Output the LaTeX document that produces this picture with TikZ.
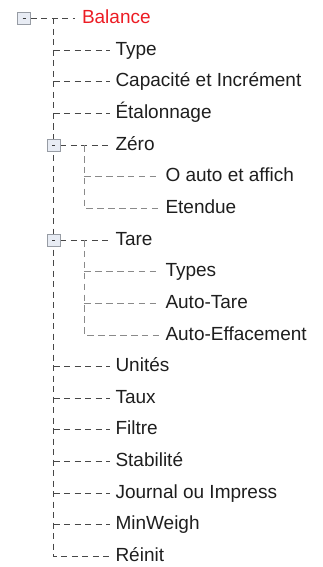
\documentclass[tikz,border=0pt]{standalone}
\usepackage{fontspec}
\setmainfont{Liberation Sans}
\usetikzlibrary{backgrounds}
\definecolor{cA}{HTML}{474747}
\definecolor{cB}{HTML}{8A8A8A}
\definecolor{boxfill}{HTML}{E8ECF4}
\definecolor{boxdraw}{HTML}{979CA4}
\definecolor{minuscol}{HTML}{3A3A3A}
\definecolor{txt}{HTML}{1E1E1E}
\definecolor{rootred}{HTML}{EC1C24}
\begin{document}
\begin{tikzpicture}[x=1pt,y=-1pt,
  lbl/.style={anchor=base west,inner sep=0pt,outer xsep=5.5pt,font=\fontsize{19}{22}\selectfont,text=txt},
  tog/.style={draw=boxdraw,fill=boxfill,minimum width=13pt,minimum height=12pt,inner sep=0pt,line width=0.8pt},
  conA/.style={draw=cA,line width=1pt,dash pattern=on 6pt off 4.5pt},
  conB/.style={draw=cB,line width=1pt,dash pattern=on 6.5pt off 4.4pt}]
\useasboundingbox (0,0) rectangle (322,567);
% toggle boxes
\node[tog] (b0) at (24,18.5) {\textcolor{minuscol}{\rule{3pt}{0.9pt}}};
\node[tog] (b4) at (53.5,145.1) {\textcolor{minuscol}{\rule{3pt}{0.9pt}}};
\node[tog] (b7) at (53.5,240.05) {\textcolor{minuscol}{\rule{3pt}{0.9pt}}};
% labels
\node[lbl,text=rootred,outer xsep=7pt] (t0) at (75,23.5) {Balance};
\node[lbl] (t1) at (110,55.15) {Type};
\node[lbl] (t2) at (110,86.8) {Capacité et Incrément};
\node[lbl] (t3) at (110,118.45) {Étalonnage};
\node[lbl] (t4) at (110,150.1) {Zéro};
\node[lbl] (t5) at (160,181.75) {O auto et affich};
\node[lbl] (t6) at (160,213.4) {Etendue};
\node[lbl] (t7) at (110,245.05) {Tare};
\node[lbl] (t8) at (160,276.7) {Types};
\node[lbl] (t9) at (160,308.35) {Auto-Tare};
\node[lbl] (t10) at (160,340.0) {Auto-Effacement};
\node[lbl] (t11) at (110,371.65) {Unités};
\node[lbl] (t12) at (110,403.3) {Taux};
\node[lbl] (t13) at (110,434.95) {Filtre};
\node[lbl] (t14) at (110,466.6) {Stabilité};
\node[lbl] (t15) at (110,498.25) {Journal ou Impress};
\node[lbl] (t16) at (110,529.9) {MinWeigh};
\node[lbl] (t17) at (110,561.55) {Réinit};
% junctions
\coordinate (j0) at (53.5,18.5);
\coordinate (c1) at (53.5,50.15);
\coordinate (c2) at (53.5,81.8);
\coordinate (c3) at (53.5,113.45);
\coordinate (c11) at (53.5,366.65);
\coordinate (c12) at (53.5,398.3);
\coordinate (c13) at (53.5,429.95);
\coordinate (c14) at (53.5,461.6);
\coordinate (c15) at (53.5,493.25);
\coordinate (c16) at (53.5,524.9);
\coordinate (c17) at (53.5,556.55);
\coordinate (z0) at (84.3,145.1);
\coordinate (z5) at (84.3,176.75);
\coordinate (z6) at (84.3,208.4);
\coordinate (r0) at (84.3,240.05);
\coordinate (r8) at (84.3,271.7);
\coordinate (r9) at (84.3,303.35);
\coordinate (r10) at (84.3,335.0);
\begin{scope}[on background layer]
\draw[conA] (b0.east) -- (b0.east -| t0.west);
\draw[conA] (j0) -- (c17) -- (c17 -| t17.west);
\foreach \k in {1,2,3,11,12,13,14,15,16}
  \draw[conA] (c\k) -- (c\k -| t\k.west);
\draw[conA] (b4.east) -- (b4.east -| t4.west);
\draw[conA] (b7.east) -- (b7.east -| t7.west);
\draw[conB] (z0) -- (z6) -- (z6 -| t6.west);
\draw[conB] (z5) -- (z5 -| t5.west);
\draw[conB] (r0) -- (r10) -- (r10 -| t10.west);
\draw[conB] (r8) -- (r8 -| t8.west);
\draw[conB] (r9) -- (r9 -| t9.west);
\end{scope}
\end{tikzpicture}
\end{document}
